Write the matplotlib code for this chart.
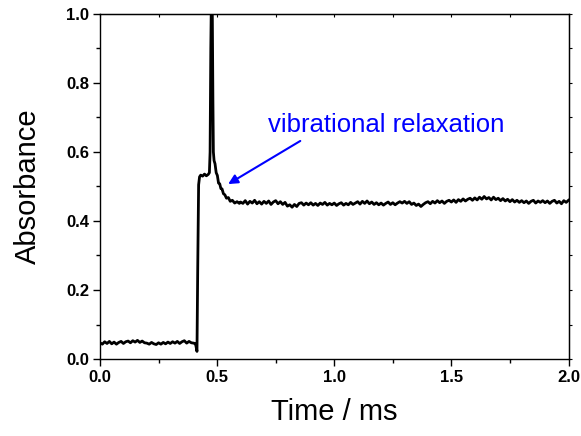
import numpy as np
import matplotlib
matplotlib.use("Agg")
import matplotlib.pyplot as plt
from matplotlib.ticker import MultipleLocator

plt.rcParams['font.family'] = ['Liberation Sans', 'DejaVu Sans']

# --- data -------------------------------------------------------------
# baseline before the pulse (0.00 .. 0.40 ms, step 0.01)
base_x = np.round(np.arange(0.0, 0.401, 0.01), 3)
base_y = [0.047, 0.043, 0.050, 0.045, 0.051, 0.044, 0.049, 0.043, 0.048, 0.051,
          0.045, 0.050, 0.052, 0.047, 0.053, 0.049, 0.054, 0.048, 0.052, 0.047,
          0.046, 0.043, 0.048, 0.044, 0.042, 0.047, 0.043, 0.048, 0.044, 0.049,
          0.045, 0.050, 0.046, 0.051, 0.045, 0.050, 0.053, 0.046, 0.051, 0.047,
          0.046]

# transition, spike and relaxation
trans_x = [0.405, 0.409, 0.412, 0.414, 0.417, 0.421, 0.425, 0.430, 0.438, 0.446,
           0.454, 0.462, 0.467, 0.470, 0.473, 0.476, 0.479, 0.482, 0.484, 0.487,
           0.491, 0.496, 0.501, 0.506, 0.511, 0.516, 0.521, 0.527, 0.533, 0.540,
           0.548, 0.556, 0.565, 0.575, 0.585, 0.595]
trans_y = [0.045, 0.040, 0.030, 0.022, 0.250, 0.505, 0.528, 0.533, 0.530, 0.536,
           0.531, 0.535, 0.540, 0.600, 0.900, 1.080, 1.050, 0.750, 0.600, 0.575,
           0.566, 0.540, 0.532, 0.510, 0.508, 0.494, 0.493, 0.479, 0.476, 0.466,
           0.468, 0.457, 0.460, 0.452, 0.456, 0.451]

# plateau after relaxation (0.60 .. 2.00 ms, step 0.01)
flat_x = np.round(np.arange(0.60, 2.001, 0.01), 3)
flat_y = [0.455, 0.451, 0.459, 0.449, 0.457, 0.452, 0.460, 0.450, 0.456, 0.449,
          0.457, 0.451, 0.458, 0.448, 0.455, 0.459, 0.450, 0.456, 0.448, 0.454,
          0.443, 0.447, 0.440, 0.448, 0.442, 0.451, 0.453, 0.446, 0.452, 0.447,
          0.453, 0.446, 0.451, 0.445, 0.452, 0.448, 0.454, 0.446, 0.451, 0.447,
          0.452, 0.445, 0.450, 0.453, 0.446, 0.451, 0.447, 0.454, 0.448, 0.452,
          0.456, 0.449, 0.457, 0.451, 0.458, 0.450, 0.455, 0.448, 0.453, 0.447,
          0.452, 0.446, 0.451, 0.455, 0.448, 0.453, 0.447, 0.452, 0.456, 0.452,
          0.457, 0.451, 0.456, 0.448, 0.452, 0.445, 0.449, 0.442, 0.448, 0.453,
          0.456, 0.450, 0.457, 0.452, 0.459, 0.453, 0.458, 0.451, 0.457, 0.460,
          0.455, 0.461, 0.454, 0.462, 0.457, 0.464, 0.458, 0.463, 0.466, 0.460,
          0.467, 0.461, 0.469, 0.463, 0.471, 0.464, 0.468, 0.461, 0.469, 0.462,
          0.466, 0.459, 0.465, 0.458, 0.463, 0.456, 0.462, 0.455, 0.460, 0.454,
          0.459, 0.453, 0.458, 0.451, 0.457, 0.460, 0.452, 0.458, 0.454, 0.459,
          0.453, 0.458, 0.451, 0.457, 0.460, 0.452, 0.457, 0.450, 0.459, 0.454,
          0.460]

time = np.concatenate([base_x, trans_x, flat_x])
absorbance = np.concatenate([base_y, trans_y, flat_y])

annot_text = "vibrational relaxation"
annot_xy = (0.547, 0.507)
annot_text_xy = (0.718, 0.658)
arrow_tail = (0.855, 0.632)

# --- figure -----------------------------------------------------------
fig = plt.figure(figsize=(5.81, 4.36), dpi=100)
ax = fig.add_axes([100 / 581, 1 - 359 / 436, 468.5 / 581, 345 / 436])

ax.plot(time, absorbance, color='black', lw=2.0, solid_joinstyle='round')

ax.set_xlim(0, 2.0)
ax.set_ylim(0, 1.0)
ax.xaxis.set_major_locator(MultipleLocator(0.5))
ax.xaxis.set_minor_locator(MultipleLocator(0.25))
ax.yaxis.set_major_locator(MultipleLocator(0.2))
ax.yaxis.set_minor_locator(MultipleLocator(0.1))
ax.tick_params(which='major', direction='out', length=5, width=1, labelsize=12, pad=3)
ax.tick_params(which='minor', direction='out', length=3, width=1)
for lab in ax.get_xticklabels() + ax.get_yticklabels():
    lab.set_fontweight('bold')
for s in ax.spines.values():
    s.set_linewidth(1.0)

sec_y = ax.secondary_yaxis('right')
sec_y.yaxis.set_major_locator(MultipleLocator(0.1))
sec_y.tick_params(direction='out', length=2, width=0.8, labelright=False)
sec_x = ax.secondary_xaxis('top')
sec_x.xaxis.set_major_locator(MultipleLocator(0.25))
sec_x.tick_params(direction='in', length=2, width=0.8, labeltop=False)

ax.set_xlabel("Time / ms", fontsize=21, labelpad=9)
ax.set_ylabel("Absorbance", fontsize=21, labelpad=17)

ax.annotate("", xy=annot_xy, xytext=arrow_tail,
            arrowprops=dict(arrowstyle='-|>', color='#0000ff', lw=1.5,
                            mutation_scale=14, shrinkA=0, shrinkB=0))
ax.text(annot_text_xy[0], annot_text_xy[1], annot_text, color='#0000ff',
        fontsize=18.5, ha='left', va='baseline')

fig.savefig("out.png", dpi=100)
